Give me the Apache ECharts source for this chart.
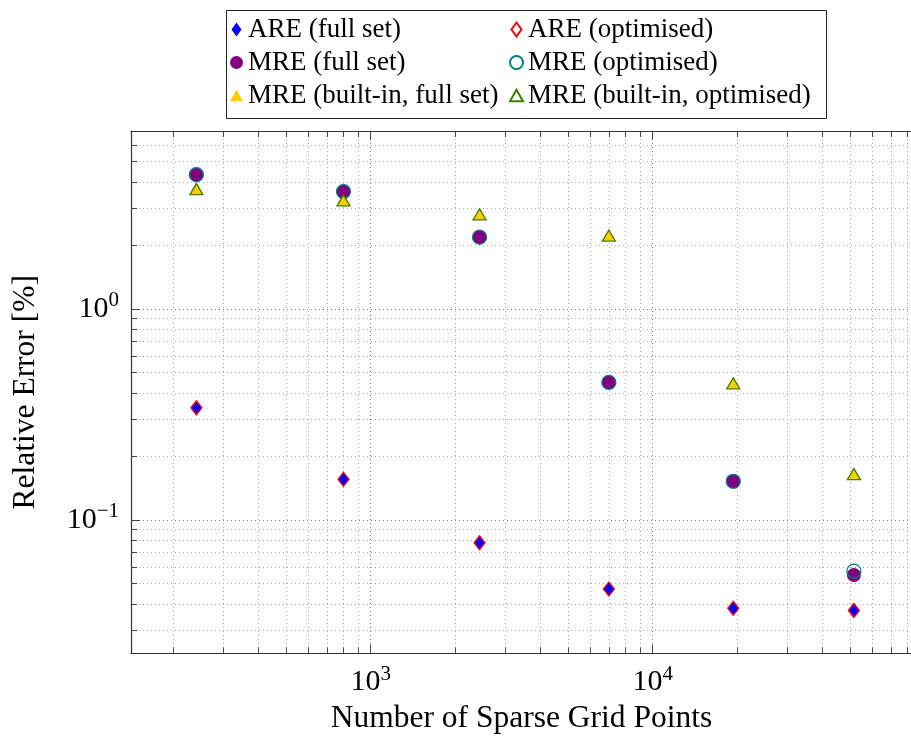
<!DOCTYPE html>
<html><head><meta charset="utf-8">
<script src="https://cdn.jsdelivr.net/npm/echarts@6/dist/echarts.min.js"></script>
<style>html,body{margin:0;padding:0;background:#fff}#c{width:911px;height:738px}</style>
</head><body><div id="c"></div>
<script>
// ---- data ----
const gridPoints = [241, 801, 2433, 6993, 19313, 51713];
const areFull = [0.340, 0.156, 0.0780, 0.0471, 0.0382, 0.0373];
const areOptimised = [0.340, 0.156, 0.0780, 0.0471, 0.0382, 0.0373];
const mreFull = [4.33, 3.60, 2.19, 0.449, 0.1526, 0.0549];
const mreOptimised = [4.33, 3.60, 2.19, 0.449, 0.1526, 0.0573];
const mreBuiltinFull = [3.62, 3.20, 2.75, 2.18, 0.435, 0.1615];
const mreBuiltinOptimised = [3.62, 3.20, 2.75, 2.18, 0.435, 0.1615];
const xTickExponents = [3, 4];
const yTickExponents = [-1, 0];
const xRange = [141.3, 83100];
const yRange = [0.0233, 6.976];
const seriesNames = ['ARE (full set)', 'ARE (optimised)', 'MRE (full set)', 'MRE (optimised)',
  'MRE (built-in, full set)', 'MRE (built-in, optimised)'];

const FONT = 'Liberation Serif';
const L = Math.log10;
function minorTicks(d0, d1) {
  const out = [];
  for (let d = d0; d <= d1; d++) for (let m = 2; m <= 9; m++) out.push(L(m * Math.pow(10, d)));
  return out;
}
const xMinor = minorTicks(2, 4);
const yMinor = minorTicks(-2, 0);
const pts = arr => gridPoints.map((n, i) => [L(n), L(arr[i])]);

const rich = {
  b: { fontFamily: FONT, fontSize: 30, color: '#000', verticalAlign: 'bottom', lineHeight: 30 },
  s: { fontFamily: FONT, fontSize: 21, color: '#000', verticalAlign: 'bottom', lineHeight: 21, padding: [0, 0, 13, 0] }
};
const supFmt = v => '{b|10}{s|' + String(Math.round(v)).replace('-', '\u2212') + '}';

const frame = { show: true, onZero: false, lineStyle: { color: '#333', width: 1.2 } };
const noLine = { show: false, onZero: false };
const majorGrid = { show: true, lineStyle: { color: '#7a7a7a', width: 1, type: [1, 3] } };
const minorGrid = { show: true, lineStyle: { color: '#a8a8a8', width: 1, type: [1, 3] } };

function xAx(pos, major, withLabel) {
  return {
    type: 'value', position: pos, min: L(xRange[0]), max: L(xRange[1]),
    axisLine: major ? frame : noLine,
    axisTick: { show: true, inside: true, length: major ? 9 : 6, customValues: major ? xTickExponents : xMinor,
      lineStyle: { color: '#444', width: 1 } },
    axisLabel: withLabel ? { show: true, customValues: xTickExponents, formatter: supFmt, rich: rich, margin: 14 } : { show: false },
    splitLine: pos === 'bottom' ? (major ? majorGrid : minorGrid) : { show: false },
    name: withLabel ? 'Number of Sparse Grid Points' : '',
    nameLocation: 'middle', nameGap: 46,
    nameTextStyle: { fontFamily: FONT, fontSize: 31.5, color: '#000', lineHeight: 31 }
  };
}
function yAx(pos, major, withLabel) {
  return {
    type: 'value', position: pos, min: L(yRange[0]), max: L(yRange[1]),
    axisLine: major ? frame : noLine,
    axisTick: { show: true, inside: true, length: major ? 9 : 6, customValues: major ? yTickExponents : yMinor,
      lineStyle: { color: '#444', width: 1 } },
    axisLabel: withLabel ? { show: true, customValues: yTickExponents, formatter: supFmt, rich: rich, margin: 12 } : { show: false },
    splitLine: pos === 'left' ? (major ? majorGrid : minorGrid) : { show: false },
    name: withLabel ? 'Relative Error [%]' : '',
    nameLocation: 'middle', nameGap: 90, nameRotate: 90,
    nameTextStyle: { fontFamily: FONT, fontSize: 31.5, color: '#000', lineHeight: 31 }
  };
}

const diamondSize = [11, 14];
const triSize = [13, 11];
const triOffset = [0, -2];
const series = [
  { name: seriesNames[0], type: 'scatter', data: pts(areFull), symbol: 'diamond', symbolSize: diamondSize,
    itemStyle: { color: '#0000ff', borderColor: '#0000ff', borderWidth: 0 } },
  { name: seriesNames[1], type: 'scatter', data: pts(areOptimised), symbol: 'diamond', symbolSize: diamondSize,
    itemStyle: { color: 'rgba(0,0,0,0)', borderColor: '#ff0000', borderWidth: 1.3 } },
  { name: seriesNames[2], type: 'scatter', data: pts(mreFull), symbol: 'circle', symbolSize: 14,
    itemStyle: { color: '#800080', borderColor: '#800080', borderWidth: 0 } },
  { name: seriesNames[3], type: 'scatter', data: pts(mreOptimised), symbol: 'circle', symbolSize: 14,
    itemStyle: { color: 'rgba(0,0,0,0)', borderColor: '#008080', borderWidth: 1.3 } },
  { name: seriesNames[4], type: 'scatter', data: pts(mreBuiltinFull), symbol: 'triangle', symbolSize: triSize, symbolOffset: triOffset,
    itemStyle: { color: '#ffcc00', borderColor: '#ffcc00', borderWidth: 0 } },
  { name: seriesNames[5], type: 'scatter', data: pts(mreBuiltinOptimised), symbol: 'triangle', symbolSize: triSize, symbolOffset: triOffset,
    itemStyle: { color: 'rgba(0,0,0,0)', borderColor: '#3f7f00', borderWidth: 1.3 } }
];
series.forEach((s, i) => {
  s.xAxisIndex = 0; s.yAxisIndex = 0; s.z = 2 + i; s.emphasis = { disabled: true };
  s.itemStyle.opacity = 1;
});

const icons = {
  diamond: 'path://M5,0L10,7L5,14L0,7Z',
  circle: 'circle',
  triangle: 'path://M6.5,0L13,11.3L0,11.3Z'
};
const legendCommon = {
  orient: 'vertical', top: 16, padding: 0, itemGap: 6, itemWidth: 13, itemHeight: 14,
  textStyle: { fontFamily: FONT, fontSize: 27, color: '#000', lineHeight: 27 },
  selectedMode: false
};

const chart = echarts.init(document.getElementById('c'), null, { renderer: 'canvas' });
chart.setOption({
  animation: false,
  backgroundColor: '#fff',
  grid: { left: 131, top: 131, right: -1, bottom: 84.5, containLabel: false, outerBoundsMode: 'none' },
  xAxis: [xAx('bottom', true, true), xAx('bottom', false, false), xAx('top', true, false), xAx('top', false, false)],
  yAxis: [yAx('left', true, true), yAx('left', false, false)],
  legend: [
    Object.assign({}, legendCommon, { left: 230, data: [
      { name: seriesNames[0], icon: icons.diamond },
      { name: seriesNames[2], icon: icons.circle },
      { name: seriesNames[4], icon: icons.triangle }] }),
    Object.assign({}, legendCommon, { left: 509, data: [
      { name: seriesNames[1], icon: icons.diamond },
      { name: seriesNames[3], icon: icons.circle },
      { name: seriesNames[5], icon: icons.triangle }] })
  ],
  graphic: [{ type: 'rect', left: 224, top: 8, shape: { width: 600, height: 108 },
    style: { fill: 'none', stroke: '#222', lineWidth: 1 }, silent: true }],
  series: series
});
</script></body></html>
